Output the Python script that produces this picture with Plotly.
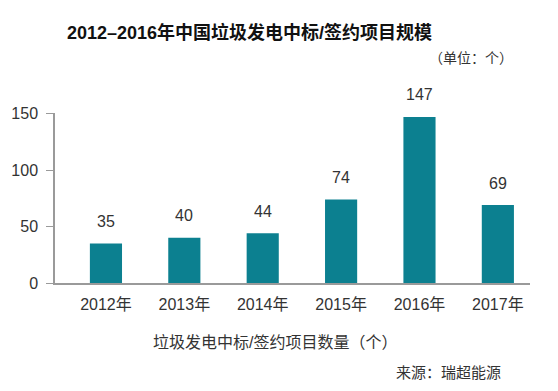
import plotly.graph_objects as go

years = ["2012年", "2013年", "2014年", "2015年", "2016年", "2017年"]
projects = [35, 40, 44, 74, 147, 69]
y_ticks = [0, 50, 100, 150]

title_text = "2012–2016年中国垃圾发电中标/签约项目规模"
unit_text = "（单位：个）"
xaxis_text = "垃圾发电中标/签约项目数量（个）"
source_text = "来源：瑞超能源"

FONT = "Arial, 'Liberation Sans', 'Noto Sans CJK SC', sans-serif"
BAR = "#0c8090"
AXIS = "#9a9a9a"
TXT = "#333333"

# page layout (the page body adds an 8px margin, so compensate)
OFF = 8
PW, PH = 558, 391
PL, PR, PT, PB = 55, 530, 113, 283   # plot area in page pixels

W, H = PW - OFF, PH - OFF
L = PL - OFF
T = PT - OFF
R = W - (PR - OFF)
B = H - (PB - OFF)


def px(x):
    return (x - PL) / (PR - PL)


def py(y):
    return (PB - y) / (PB - PT)


fig = go.Figure()
fig.add_trace(go.Bar(
    x=list(range(len(years))), y=projects,
    marker=dict(color=BAR, line=dict(width=0)),
    width=0.41, hoverinfo="skip",
))

for i, v in enumerate(projects):
    fig.add_annotation(x=i, y=v, xref="x", yref="y", text=str(v), showarrow=False,
                       yanchor="middle", yshift=22,
                       font=dict(family=FONT, size=16, color=TXT))

fig.add_annotation(x=px(249), y=py(33), xref="paper", yref="paper",
                   text="<b>" + title_text + "</b>", showarrow=False,
                   xanchor="center", yanchor="middle",
                   font=dict(family=FONT, size=18, color="#111111"))
fig.add_annotation(x=px(515), y=py(58), xref="paper", yref="paper",
                   text=unit_text, showarrow=False, xanchor="right", yanchor="middle",
                   font=dict(family=FONT, size=14, color=TXT))
fig.add_annotation(x=px(275), y=py(342), xref="paper", yref="paper",
                   text=xaxis_text, showarrow=False, xanchor="center", yanchor="middle",
                   font=dict(family=FONT, size=16, color=TXT))
fig.add_annotation(x=px(503), y=py(372), xref="paper", yref="paper",
                   text=source_text, showarrow=False, xanchor="right", yanchor="middle",
                   font=dict(family=FONT, size=15, color=TXT))

fig.update_layout(
    width=W, height=H,
    margin=dict(l=L, r=R, t=T, b=B, pad=0, autoexpand=False),
    paper_bgcolor="white", plot_bgcolor="white",
    showlegend=False,
    xaxis=dict(
        range=[-0.65, 5.41],
        tickmode="array", tickvals=list(range(len(years))), ticktext=years,
        showgrid=False, zeroline=False,
        showline=True, linecolor=AXIS, linewidth=1.5,
        ticks="", ticklabelstandoff=6,
        tickfont=dict(family=FONT, size=16, color=TXT),
        fixedrange=True,
    ),
    yaxis=dict(
        range=[0, 150.5],
        tickmode="array", tickvals=y_ticks,
        showgrid=False, zeroline=False,
        showline=True, linecolor=AXIS, linewidth=1.5,
        ticks="outside", ticklen=7, tickcolor=AXIS, tickwidth=1,
        ticklabelstandoff=5,
        tickfont=dict(family=FONT, size=16, color=TXT),
        fixedrange=True,
    ),
)

fig.write_html("out.html")
